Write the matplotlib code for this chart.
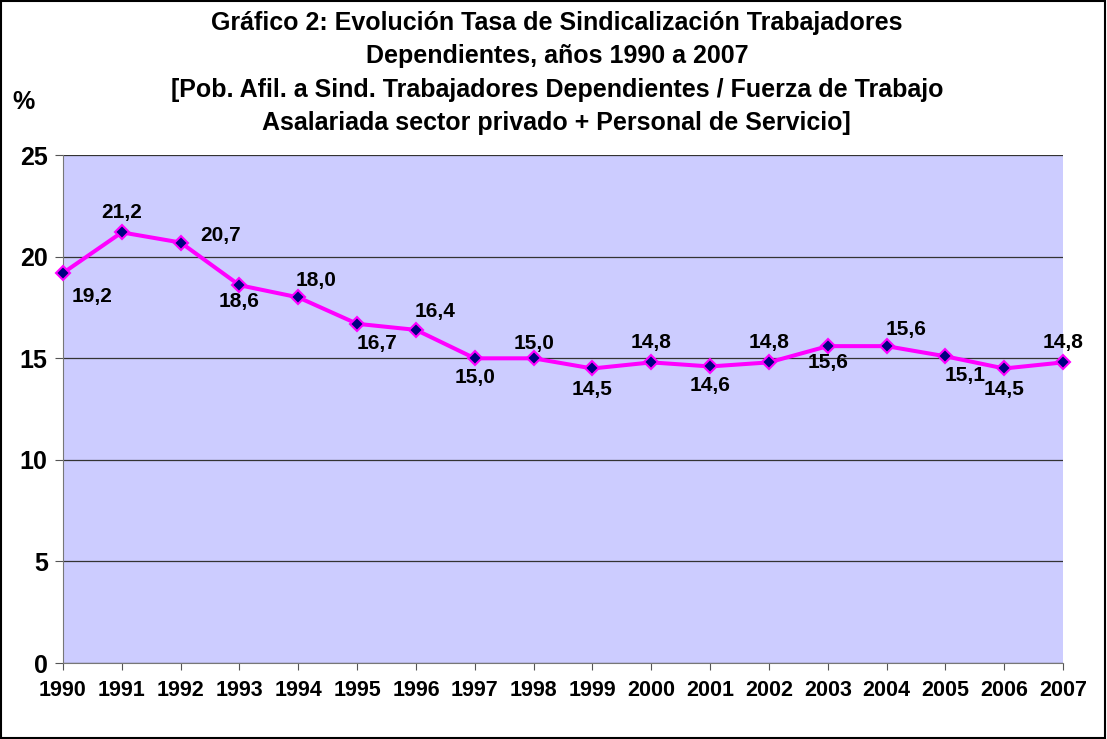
import matplotlib

matplotlib.use("Agg")
import matplotlib.pyplot as plt
from matplotlib.patches import Rectangle

plt.rcParams["font.family"] = ["Liberation Sans", "DejaVu Sans"]

years = list(range(1990, 2008))
tasa = [19.2, 21.2, 20.7, 18.6, 18.0, 16.7, 16.4, 15.0, 15.0,
        14.5, 14.8, 14.6, 14.8, 15.6, 15.6, 15.1, 14.5, 14.8]
labels = ["19,2", "21,2", "20,7", "18,6", "18,0", "16,7", "16,4", "15,0", "15,0",
          "14,5", "14,8", "14,6", "14,8", "15,6", "15,6", "15,1", "14,5", "14,8"]
# label offsets in points (dx, dy) relative to each point
offsets = [(21, -17), (0, 14), (29, 5), (0, -12), (13, 12), (14, -14),
           (14, 13), (0, -14), (0, 11), (0, -15), (0, 14), (0, -14),
           (0, 14), (0, -12), (14, 12), (14, -14), (0, -15), (0, 14)]
title_lines = [
    "Gráfico 2: Evolución Tasa de Sindicalización Trabajadores",
    "Dependientes, años 1990 a 2007",
    "[Pob. Afil. a Sind. Trabajadores Dependientes / Fuerza de Trabajo",
    "Asalariada sector privado + Personal de Servicio]",
]

fig = plt.figure(figsize=(11.07, 7.39), dpi=100)
ax = fig.add_axes([0.0569, 0.1028, 0.9034, 0.6872])
ax.set_facecolor("#CCCCFF")

ax.plot(years, tasa, color="#FF00FF", linewidth=2.9, marker="D", markersize=7,
        markerfacecolor="#000080", markeredgecolor="#FF00FF", markeredgewidth=1.5,
        zorder=3, clip_on=False)
for x, y, lab, (dx, dy) in zip(years, tasa, labels, offsets):
    ax.annotate(lab, (x, y), xytext=(dx, dy), textcoords="offset points",
                ha="center", va="center", fontsize=15, fontweight="bold")

ax.set_xlim(1990, 2007)
ax.set_ylim(0, 25)
ax.set_yticks([0, 5, 10, 15, 20, 25])
ax.set_xticks(years)
ax.grid(axis="y", color="#333333", linewidth=0.9)
ax.set_axisbelow(True)
for s in ["top", "right"]:
    ax.spines[s].set_visible(False)
for s in ["left", "bottom"]:
    ax.spines[s].set_color("#777777")
ax.tick_params(axis="x", labelsize=15.5, length=5, color="#555555", pad=7)
ax.tick_params(axis="y", labelsize=18, length=6, color="#555555", pad=5)
for t in ax.get_xticklabels() + ax.get_yticklabels():
    t.set_fontweight("bold")

for i, line in enumerate(title_lines):
    fig.text(0.503, 0.969 - i * 0.0452, line, ha="center", va="center",
             fontsize=18, fontweight="bold")
fig.text(0.021, 0.862, "%", ha="center", va="center", fontsize=18, fontweight="bold")

fig.patches.append(Rectangle((0.001, 0.001), 0.997, 0.997, transform=fig.transFigure,
                             fill=False, edgecolor="black", linewidth=1.5))

fig.savefig("out.png", dpi=100)
